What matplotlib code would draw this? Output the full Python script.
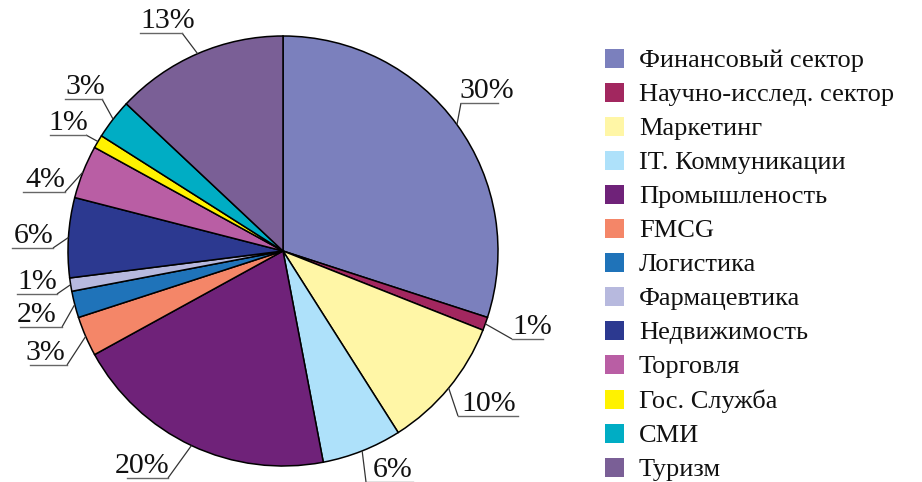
import numpy as np
import matplotlib
matplotlib.use("Agg")
import matplotlib.pyplot as plt
from matplotlib.patches import Rectangle

plt.rcParams.update({"font.family": ["Liberation Serif", "DejaVu Serif"]})

# data
sectors = ["Финансовый сектор", "Научно-исслед. сектор", "Маркетинг",
           "IT. Коммуникации", "Промышленость", "FMCG", "Логистика",
           "Фармацевтика", "Недвижимость", "Торговля", "Гос. Служба",
           "СМИ", "Туризм"]
shares = [30, 1, 10, 6, 20, 3, 2, 1, 6, 4, 1, 3, 13]
colors = ["#7b80bd", "#a2275f", "#fff6a6", "#aee1fa", "#6f2279", "#f48668",
          "#1f73b9", "#b7b9de", "#2c3990", "#b95ea4", "#fff200", "#00adc4",
          "#7a5f96"]

# label layout in pixels: text left x, underline y, underline x0, x1
label_text_x = [459, 512, 461, 373, 115, 25, 17, 17, 14, 25, 48, 65, 140]
label_line_y = [103, 339, 416, 482, 478, 365, 327, 294, 248, 192, 135, 99, 33]
label_line_x = [(461, 498), (512, 543), (458, 518), (366, 413), (127, 168),
                (30, 67), (20, 62), (17, 57), (12, 53), (23, 65), (50, 86),
                (65, 102), (140, 182)]

W, H = 922, 482
CX, CY, R = 283, 251, 215

fig = plt.figure(figsize=(W / 100, H / 100), dpi=100)
ax = fig.add_axes([0, 0, 1, 1])

wedges, _ = ax.pie(shares, colors=colors, startangle=-90, counterclock=True,
                   center=(CX, CY), radius=R,
                   wedgeprops=dict(edgecolor="black", linewidth=1.1))
ax.set_xlim(0, W)
ax.set_ylim(H, 0)
ax.set_aspect("auto")
ax.axis("off")

for w, v, tx, ly, (x0, x1) in zip(wedges, shares, label_text_x,
                                  label_line_y, label_line_x):
    mid = np.deg2rad((w.theta1 + w.theta2) / 2)
    ex, ey = CX + R * np.cos(mid), CY + R * np.sin(mid)
    # elbow is the underline end closest to the pie
    elbow = x0 if ex < x0 else x1
    ax.plot([ex, elbow], [ey, ly], color="#333333", lw=0.9,
            solid_capstyle="butt", clip_on=False)
    ax.plot([x0, x1], [ly, ly], color="#666666", lw=1.0, clip_on=False)
    ax.text(tx, ly - 5, f"{v}%", fontsize=21.5, ha="left", va="baseline",
            color="#111111")

# legend
for i, (name, c) in enumerate(zip(sectors, colors)):
    yc = 58 + 34.1 * i
    ax.add_patch(Rectangle((605, yc - 9.5), 19, 19, facecolor=c,
                           edgecolor="none"))
    ax.text(639, yc, name, fontsize=19, ha="left", va="center_baseline",
            color="#111111")

fig.savefig("out.png", dpi=100)
